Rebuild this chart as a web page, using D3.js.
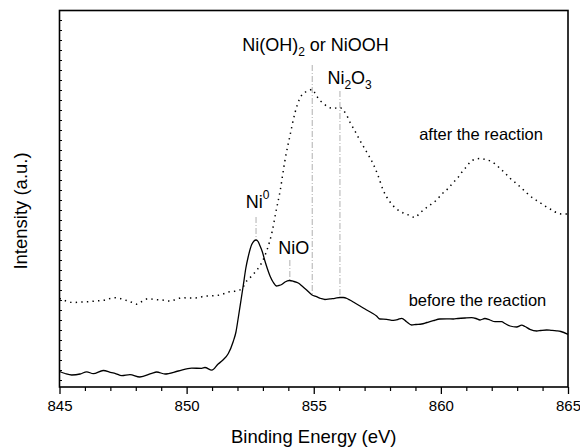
<!DOCTYPE html>
<html>
<head>
<meta charset="utf-8">
<script src="https://cdn.jsdelivr.net/npm/d3@7"></script>
<style>
  body { margin: 0; background: #fff; }
  svg { display: block; font-family: "Liberation Sans", Arial, sans-serif; }
</style>
</head>
<body>
<svg id="chart" width="580" height="448"></svg>
<script>
// ---- data ----
const beforeEnergy = [845.00,845.22,845.48,845.81,846.07,846.33,846.72,847.05,847.18,847.45,847.77,848.16,848.63,848.82,849.15,849.67,850.20,850.59,850.72,850.99,851.24,851.43,851.64,851.83,851.94,852.03,852.14,852.23,852.33,852.42,852.56,852.65,852.73,852.81,852.88,852.98,853.08,853.18,853.28,853.40,853.54,853.63,853.74,853.87,854.04,854.22,854.39,854.54,854.72,854.92,855.11,855.28,855.44,855.64,855.83,856.03,856.16,856.31,856.42,856.62,856.82,857.08,857.29,857.47,857.60,857.87,858.13,858.31,858.46,858.65,858.85,859.02,859.24,859.45,859.70,859.96,860.23,860.49,860.67,860.95,861.21,861.38,861.54,861.73,861.93,862.13,862.39,862.52,862.72,862.98,863.18,863.31,863.50,863.77,863.93,864.16,864.33,864.55,864.72,865.00];
const beforeIntensity = [0.85,0.65,0.5,0.6,0.82,0.63,0.95,0.73,0.67,0.43,0.53,0.3,0.67,0.8,0.6,0.9,1.18,1.17,1.25,0.98,1.6,2.0,2.65,3.83,4.8,6.2,8.0,9.5,11.2,12.3,13.55,13.9,14.0,13.85,13.45,12.8,11.9,11.1,10.4,9.8,9.4,9.45,9.55,9.8,9.95,9.85,9.7,9.4,9.0,8.53,8.33,8.15,8.05,8.12,8.17,8.25,8.25,8.15,8.0,7.7,7.4,7.0,6.7,6.4,6.1,6.07,5.97,6.05,6.17,5.83,5.5,5.55,5.6,5.75,5.93,6.1,6.12,6.1,6.15,6.2,6.23,6.15,6.0,6.15,6.0,5.83,5.83,5.65,5.4,5.3,5.48,5.35,5.07,4.9,4.95,5.0,4.97,4.92,4.85,4.57];

const afterEnergy = [845.00,845.26,845.54,845.81,846.13,846.44,846.79,846.99,847.18,847.38,847.58,847.81,848.04,848.24,848.49,848.76,849.02,849.35,849.58,849.81,850.05,850.33,850.52,850.72,851.00,851.24,851.43,851.64,851.83,852.03,852.18,852.36,852.56,852.73,852.88,853.04,853.20,853.36,853.51,853.67,853.87,854.07,854.26,854.46,854.65,854.81,854.94,855.05,855.18,855.37,855.51,855.64,855.77,855.91,856.03,856.15,856.29,856.42,856.62,856.82,857.08,857.34,857.52,857.73,858.00,858.26,858.52,858.78,858.98,859.14,859.31,859.57,859.83,860.04,860.29,860.47,860.68,860.83,861.01,861.14,861.34,861.54,861.73,862.00,862.16,862.32,862.52,862.72,862.95,863.18,863.38,863.63,863.86,864.09,864.33,864.61,864.76,865.00];
const afterIntensity = [8.15,7.9,7.75,7.8,7.83,7.9,8.0,8.15,8.23,8.15,8.0,7.8,7.58,7.85,8.13,8.05,8.0,7.9,8.05,8.23,8.2,8.2,8.27,8.4,8.42,8.47,8.6,8.8,8.85,8.95,9.15,9.9,10.4,10.9,11.4,12.2,13.3,14.8,16.8,18.8,22.0,24.5,26.7,28.2,28.75,28.95,29.07,28.7,28.15,27.67,27.4,27.22,27.15,27.22,27.25,27.0,26.5,25.8,24.9,23.95,22.8,21.6,20.5,19.0,17.8,17.1,16.7,16.45,16.25,16.6,17.0,17.5,18.0,18.6,19.17,19.7,20.27,20.8,21.33,21.75,22.07,22.15,22.07,21.83,21.55,21.17,20.7,20.17,19.7,19.17,18.7,18.17,17.8,17.4,17.05,16.67,16.6,16.6];

const xTickLabels = [845, 850, 855, 860, 865];
const xMinorTicks = d3.range(845, 866, 1);
const yTicks = d3.range(0, 37, 1);

// reference markers: energy, top, bottom (intensity units)
const refEnergy = [852.73, 854.06, 854.94, 856.03];
const refTop    = [16.3, 12.0, 31.5, 28.9];
const refBottom = [14.0, 10.0, 8.6, 8.25];

// annotation labels
const labelText   = ["Ni", "NiO", "Ni(OH)", "Ni", "after the reaction", "before the reaction"];
const labelEnergy = [852.79, 854.21, 855.07, 856.41, 861.58, 861.44];
const labelLevel  = [17.2, 12.6, 32.9, 29.6, 24.0, 7.4];

// ---- layout ----
const svg = d3.select("#chart");
const x = d3.scaleLinear().domain([845, 865]).range([59.5, 568]);
const y = d3.scaleLinear().domain([-0.7, 36.95]).range([387, 10.5]);

// reference lines
svg.append("g").selectAll("line").data(refEnergy).join("line")
  .attr("x1", d => x(d)).attr("x2", d => x(d))
  .attr("y1", (d, i) => y(refTop[i])).attr("y2", (d, i) => y(refBottom[i]))
  .attr("stroke", "#b0b0b0").attr("stroke-width", 1)
  .attr("stroke-dasharray", "6,2,1,2");

// curves
const line = d3.line().curve(d3.curveMonotoneX);
svg.append("path")
  .attr("d", line(beforeEnergy.map((e, i) => [x(e), y(beforeIntensity[i])])))
  .attr("fill", "none").attr("stroke", "#000").attr("stroke-width", 1.3);
svg.append("path")
  .attr("d", line(afterEnergy.map((e, i) => [x(e), y(afterIntensity[i])])))
  .attr("fill", "none").attr("stroke", "#000").attr("stroke-width", 1.5)
  .attr("stroke-dasharray", "1.4,4.2");

// axes
const xAxis = d3.axisBottom(x).tickValues(xTickLabels).tickSize(7).tickPadding(6).tickFormat(d3.format("d"));
const gx = svg.append("g").attr("transform", `translate(0,387)`).call(xAxis);
gx.select(".domain").remove();
gx.selectAll("text").attr("font-size", 15).attr("font-family", "Liberation Sans, Arial, sans-serif").attr("fill", "#000");
gx.selectAll("line").attr("stroke-width", 1.3);
svg.append("g").attr("transform", `translate(0,387)`)
  .call(d3.axisBottom(x).tickValues(xMinorTicks.filter(v => v % 5 !== 0)).tickSize(4).tickFormat(""))
  .call(g => g.select(".domain").remove())
  .selectAll("line").attr("stroke-width", 1.2);

const gy = svg.append("g").attr("transform", `translate(59.5,0)`)
  .call(d3.axisRight(y).tickValues(yTicks).tickSize(2.5).tickFormat(""));
gy.select(".domain").remove();
gy.selectAll("line").attr("stroke-width", 1);

// frame
svg.append("rect").attr("x", 59.5).attr("y", 10.5).attr("width", 508.5).attr("height", 376.5)
  .attr("fill", "none").attr("stroke", "#000").attr("stroke-width", 1.6);

// axis titles
svg.append("text").attr("x", (x.range()[0] + x.range()[1]) / 2).attr("y", 443)
  .attr("text-anchor", "middle").attr("font-size", 18.5).text("Binding Energy (eV)");
svg.append("text").attr("transform", "translate(27,211) rotate(-90)")
  .attr("text-anchor", "middle").attr("font-size", 18.5).text("Intensity (a.u.)");

// annotations
const ann = svg.append("g").attr("font-size", 18).attr("fill", "#000");
function addLabel(i, parts, size) {
  const t = ann.append("text").attr("x", x(labelEnergy[i])).attr("y", y(labelLevel[i]))
    .attr("text-anchor", "middle").attr("font-size", size);
  parts.forEach(p => {
    const s = t.append("tspan").text(p.t);
    if (p.sub) s.attr("font-size", 12).attr("dy", 5);
    if (p.sup) s.attr("font-size", 12).attr("dy", -9);
    if (p.back) s.attr("dy", p.back);
  });
}
addLabel(0, [{t: labelText[0]}, {t: "0", sup: true}], 18);
addLabel(1, [{t: labelText[1]}], 18);
addLabel(2, [{t: labelText[2]}, {t: "2", sub: true}, {t: " or NiOOH", back: -5}], 18);
addLabel(3, [{t: labelText[3]}, {t: "2", sub: true}, {t: "O", back: -5}, {t: "3", sub: true}], 18);
addLabel(4, [{t: labelText[4]}], 16.5);
addLabel(5, [{t: labelText[5]}], 16.5);
</script>
</body>
</html>
